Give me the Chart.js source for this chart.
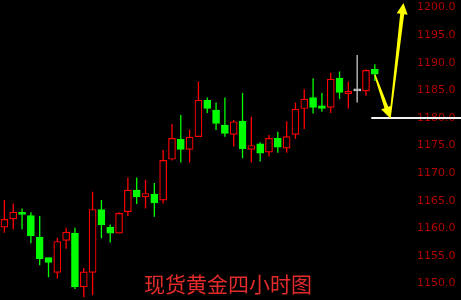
<!DOCTYPE html>
<html>
<head>
<meta charset="utf-8">
<script src="https://cdn.jsdelivr.net/npm/chart.js@4.4.1/dist/chart.umd.min.js"></script>
<style>
	html, body { margin: 0; padding: 0; background: #000; }
	#wrap { position: relative; width: 461px; height: 300px; overflow: hidden; }
	#title { position: absolute; left: 144px; top: 273px; font: 21px/21px "Noto Sans CJK SC", sans-serif; color: #e42b2b; white-space: nowrap; }
</style>
</head>
<body>
<div id="wrap">
	<canvas id="chart" width="461" height="300"></canvas>
	<div id="title">现货黄金四小时图</div>
</div>
<script>

// 4 hour candles
var opens	 =	[1160.2, 1161.7, 1162.9, 1162.3, 1158.4, 1154.7, 1152.0, 1157.8, 1159.1, 1149.4, 1152.0,
				 1163.4, 1160.2, 1159.1, 1163.0, 1166.9, 1165.7, 1166.2, 1165.1, 1172.5, 1176.1, 1174.3,
				 1176.6, 1183.2, 1181.4, 1178.7, 1177.0, 1179.4, 1174.3, 1175.3, 1173.8, 1176.3, 1174.5,
				 1177.0, 1181.7, 1183.7, 1182.2, 1181.9, 1187.2, 1184.4, 1184.9, 1184.9, 1188.8];
var highs	 =	[1165.1, 1164.5, 1163.6, 1162.9, 1162.2, 1154.7, 1158.3, 1160.1, 1160.1, 1152.8, 1166.6,
				 1165.1, 1160.7, 1162.9, 1169.2, 1169.2, 1168.8, 1168.2, 1174.2, 1178.9, 1180.5, 1177.9,
				 1186.6, 1183.7, 1182.8, 1183.7, 1179.6, 1184.5, 1180.2, 1175.6, 1176.9, 1177.5, 1179.4,
				 1182.8, 1185.2, 1187.2, 1184.5, 1188.2, 1188.4, 1186.6, 1191.4, 1188.8, 1189.7];
var lows	 =	[1159.2, 1159.8, 1159.8, 1157.3, 1153.3, 1151.1, 1150.9, 1156.3, 1149.0, 1147.5, 1147.9,
				 1158.2, 1157.4, 1159.1, 1162.2, 1164.4, 1163.6, 1162.1, 1164.5, 1172.3, 1171.9, 1171.9,
				 1176.6, 1180.9, 1177.8, 1176.6, 1174.8, 1172.7, 1171.9, 1172.1, 1173.0, 1173.7, 1173.7,
				 1176.2, 1178.0, 1180.8, 1181.1, 1180.9, 1183.4, 1181.7, 1182.8, 1184.0, 1186.7];
var closes	 =	[1161.6, 1162.9, 1162.5, 1158.6, 1154.5, 1153.8, 1157.6, 1159.3, 1149.4, 1152.1, 1163.4,
				 1160.6, 1159.1, 1162.7, 1166.9, 1165.7, 1166.3, 1164.6, 1172.3, 1176.3, 1174.3, 1176.5,
				 1183.2, 1181.7, 1179.0, 1177.2, 1179.3, 1174.4, 1175.0, 1173.6, 1176.3, 1174.7, 1176.6,
				 1181.6, 1183.4, 1181.9, 1181.7, 1187.0, 1184.6, 1184.8, 1184.9, 1188.6, 1187.9];

var yTicks	 =	[1150, 1155, 1160, 1165, 1170, 1175, 1180, 1185, 1190, 1195, 1200];

// support level and the two hand drawn arrows, in [candle index, price]
var levelValue	 =	1180;
var levelStart	 =	41.6;
var arrows		 =	[
	{ from: [42.0, 1187.8], to: [43.72, 1180.0] },
	{ from: [43.72, 1180.0], to: [45.25, 1200.8] }
];

/**
 * Colour of a candle by direction
 */
function candleColour(i, up, down, flat) {
	if (closes[i] > opens[i]) return up;
	if (closes[i] < opens[i]) return down;
	return flat;
}

/**
 * Filled arrow with a slightly tapered shaft
 */
function drawArrow(ctx, x0, y0, x1, y1) {
	
	var head	 =	11, half = 5.5, w0 = 1.5, w1 = 4;
	var dx		 =	x1 - x0, dy = y1 - y0;
	var len		 =	Math.sqrt(dx * dx + dy * dy);
	var ux		 =	dx / len, uy = dy / len;
	var nx		 =	-uy, ny = ux;
	var bx		 =	x1 - ux * head, by = y1 - uy * head;
	
	ctx.beginPath();
	ctx.moveTo(x0 + nx * w0 / 2, y0 + ny * w0 / 2);
	ctx.lineTo(bx + nx * w1 / 2, by + ny * w1 / 2);
	ctx.lineTo(bx + nx * half, by + ny * half);
	ctx.lineTo(x1, y1);
	ctx.lineTo(bx - nx * half, by - ny * half);
	ctx.lineTo(bx - nx * w1 / 2, by - ny * w1 / 2);
	ctx.lineTo(x0 - nx * w0 / 2, y0 - ny * w0 / 2);
	ctx.closePath();
	ctx.fill();
	
}

var overlay	 =	{
	id					 :	"overlay",
	afterDatasetsDraw	 :	function (chart) {
		
		var ctx		 =	chart.ctx;
		var xs		 =	chart.scales.x;
		var ys		 =	chart.scales.y;
		var ly		 =	Math.round(ys.getPixelForValue(levelValue));
		
		ctx.save();
		
		ctx.strokeStyle	 =	"#f2f2f2";
		ctx.lineWidth	 =	2;
		ctx.beginPath();
		ctx.moveTo(xs.getPixelForValue(levelStart), ly);
		ctx.lineTo(chart.width, ly);
		ctx.stroke();
		
		ctx.fillStyle	 =	"#ffff00";
		arrows.forEach(function (a) {
			drawArrow(ctx,
				xs.getPixelForValue(a.from[0]), ys.getPixelForValue(a.from[1]),
				xs.getPixelForValue(a.to[0]), ys.getPixelForValue(a.to[1]));
		});
		
		ctx.restore();
		
	}
};

var labels	 =	[];
for (var i = 0; i < opens.length + 4; i++) labels.push(i < opens.length ? String(i + 1) : "");

var bodyFill	 =	opens.map(function (o, i) { return candleColour(i, "#000000", "#00ff00", "#c8c8c8"); });
var lineColour	 =	opens.map(function (o, i) { return candleColour(i, "#ff0000", "#00ff00", "#c8c8c8"); });

new Chart(document.getElementById("chart"), {
	type		 :	"bar",
	data		 :	{
		labels		 :	labels,
		datasets	 :	[
			{
				data			 :	opens.map(function (o, i) { return [o, closes[i]]; }),
				backgroundColor	 :	bodyFill,
				borderColor		 :	lineColour,
				borderWidth		 :	1.2,
				borderSkipped	 :	false,
				barThickness	 :	7,
				minBarLength	 :	2,
				grouped			 :	false
			},
			{
				data			 :	lows.map(function (l, i) { return [l, highs[i]]; }),
				backgroundColor	 :	lineColour,
				borderWidth		 :	0,
				barThickness	 :	1.3,
				inflateAmount	 :	0,
				grouped			 :	false
			}
		]
	},
	options		 :	{
		responsive			 :	false,
		animation			 :	false,
		devicePixelRatio	 :	1,
		layout				 :	{ padding: 0 },
		plugins				 :	{ legend: { display: false }, tooltip: { enabled: false } },
		scales				 :	{
			x	 :	{ display: false, offset: true },
			y	 :	{
				position		 :	"right",
				min				 :	1147.0,
				max				 :	1201.36,
				grid			 :	{ display: false, drawTicks: false },
				border			 :	{ display: false },
				ticks			 :	{
					color		 :	"#b00000",
					font		 :	{ family: "DejaVu Sans", size: 11 },
					padding		 :	2.5,
					callback	 :	function (v) { return Number(v).toFixed(1); }
				},
				afterBuildTicks	 :	function (s) { s.ticks = yTicks.map(function (v) { return { value: v }; }); },
				afterFit		 :	function (s) { s.width = 46.5; s.paddingTop = 0; s.paddingBottom = 0; }
			}
		}
	},
	plugins		 :	[overlay]
});

</script>
</body>
</html>
